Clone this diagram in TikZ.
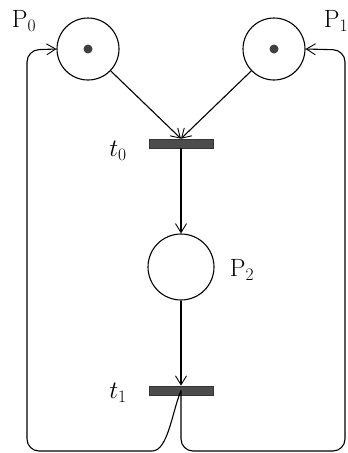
\RequirePackage{fix-cm}
\documentclass[tikz,border=0pt]{standalone}
\usetikzlibrary{arrows.meta}
\begin{document}
\begin{tikzpicture}[x=1pt,y=-1pt,
  place/.style={draw,circle,line width=1.1pt,minimum size=62pt,inner sep=0pt},
  trans/.style={draw=black!80,fill=black!70,rectangle,minimum width=64pt,minimum height=9pt,inner sep=0pt,line width=0.6pt},
  token/.style={circle,fill=black!75,minimum size=9pt,inner sep=0pt},
  lbl/.style={font=\fontsize{25}{30}\selectfont,inner sep=0pt},
  arc/.style={line width=1.1pt,-{Straight Barb[length=9pt,width=11pt,line width=0.9pt]}},
  loop/.style={line width=1.1pt,rounded corners=12pt}]
\useasboundingbox (0,0) rectangle (348,453);
\node[place] (P0) at (88,49) {};
\node[place] (P1) at (274,49) {};
\node[token] (k0) at (P0.center) {};
\node[token] (k1) at (P1.center) {};
\node[place,minimum size=66pt] (P2) at (181,267) {};
\node[trans] (t0) at (181,143.5) {};
\node[trans] (t1) at (181,390.5) {};
\node[lbl] (lP0) at (24,21) {P$_0$};
\node[lbl] (lP1) at (336,21) {P$_1$};
\node[lbl] (lP2) at (242,270) {P$_2$};
\node[lbl] (lt0) at (118,151) {$t_0$};
\node[lbl] (lt1) at (118,393) {$t_1$};
\draw[arc] (P0) -- (t0.north);
\draw[arc] (P1) -- (t0.north);
\draw[arc] (t0.south) -- (P2.north);
\draw[arc] (P2.south) -- (t1.north);
\coordinate (lb) at (27,451);
\coordinate (lt) at (27,50);
\coordinate (rb) at (345,451);
\coordinate (rt) at (345,50);
\coordinate (mb) at (181,451);
\draw[loop,-{Straight Barb[length=9pt,width=11pt,line width=0.9pt]}] (t1.center) .. controls (172,412) and (168,451) .. (140,451) -- (lb) -- (lt) -- (P0.west);
\draw[loop,-{Straight Barb[length=9pt,width=11pt,line width=0.9pt]}] (t1.center) -- (mb) -- (rb) -- (rt) -- (P1.east);
\end{tikzpicture}
\end{document}
